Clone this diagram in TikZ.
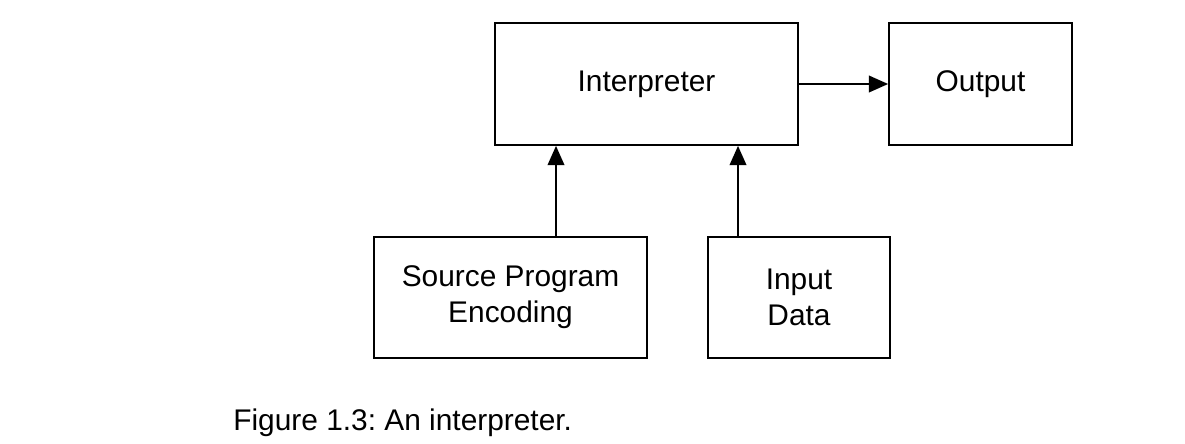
\documentclass[tikz,border=0pt]{standalone}
\usepackage{fontspec}
\setmainfont{Liberation Sans}
\usetikzlibrary{calc, arrows.meta}

\begin{document}
\frenchspacing
\begin{tikzpicture}[x=0.02cm, y=-0.02cm,
    font=\fontsize{17}{20.5}\selectfont,
    block/.style={draw, line width=1pt, align=center, inner sep=0pt},
    flow/.style={line width=1pt, -{Triangle[length=11pt, width=9.5pt]}}]

    % 1. Page size, margins included
    \useasboundingbox (0,0) rectangle (1185,443);

    % 2. The boxes
    \node[block, minimum width=6.06cm, minimum height=2.44cm] (interp) at (646.5,84) {Interpreter};
    \node[block, minimum width=3.66cm, minimum height=2.44cm] (output) at (980.5,84) {Output};
    \node[block, minimum width=5.46cm, minimum height=2.42cm] (source) at (510.5,297.5) {Source Program\\Encoding};
    \node[block, minimum width=3.64cm, minimum height=2.42cm] (input) at (799,297.5) {Input\\Data};

    % 3. Where the two upward arrows run
    \coordinate (srcX) at (556,0);
    \coordinate (inX) at (738,0);

    % 4. The arrows
    \draw[flow] (interp.east) -- (output.west);
    \draw[flow] (source.north -| srcX) -- (interp.south -| srcX);
    \draw[flow] (input.north -| inX) -- (interp.south -| inX);

    % 5. Caption
    \node[anchor=base west, inner sep=0pt] (caption) at (233,430) {Figure 1.3: An interpreter.};

\end{tikzpicture}
\end{document}
